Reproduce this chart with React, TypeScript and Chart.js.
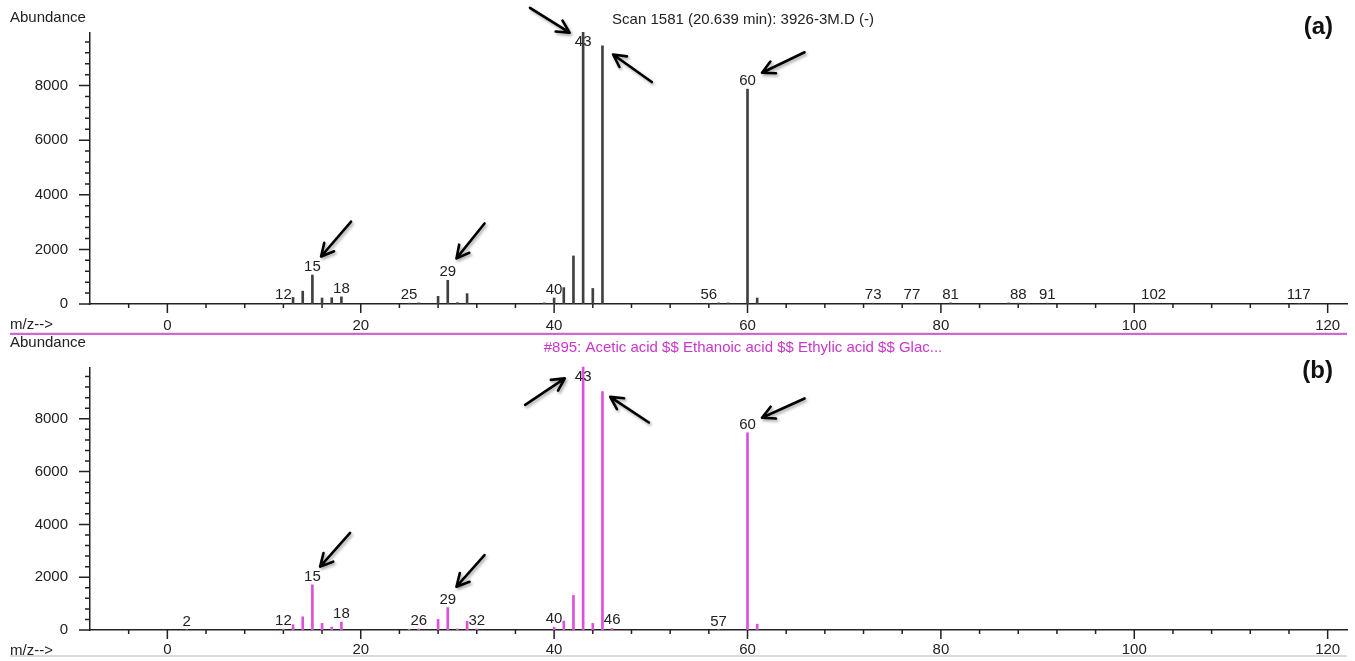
import React, { useEffect, useRef } from "react";
import { Chart, registerables } from "chart.js";

Chart.register(...registerables);

// ---------- data ----------
const topMz = [12, 13, 14, 15, 16, 17, 18, 25, 26, 28, 29, 30, 31, 39, 40, 41, 42, 43, 44, 45, 56, 57, 58, 60, 61, 73, 77, 81, 87, 88, 89, 91, 102, 117];
const topAbundance = [20, 240, 470, 1060, 220, 230, 260, 30, 40, 280, 870, 50, 380, 40, 220, 600, 1760, 9950, 570, 9460, 20, 40, 40, 7870, 220, 30, 20, 40, 40, 30, 30, 30, 30, 20];
const topPeakLabels = [12, 15, 18, 25, 29, 40, 43, 56, 60, 73, 77, 81, 88, 91, 102, 117];

const bottomMz = [2, 12, 13, 14, 15, 16, 17, 18, 25, 26, 28, 29, 30, 31, 32, 40, 41, 42, 43, 44, 45, 46, 57, 60, 61];
const bottomAbundance = [10, 30, 200, 500, 1710, 250, 110, 300, 30, 40, 400, 850, 40, 330, 40, 100, 340, 1310, 9960, 250, 9030, 60, 10, 7470, 220];
const bottomPeakLabels = [2, 12, 15, 18, 26, 29, 32, 40, 43, 46, 57, 60];

// arrows: tail (x0,y0) -> tip (x1,y1), in data units (m/z, abundance)
const topArrows = [
  { x0: 37.5, y0: 10850, x1: 41.6, y1: 9940 },
  { x0: 50.1, y0: 8130, x1: 46.1, y1: 9140 },
  { x0: 65.9, y0: 9220, x1: 61.5, y1: 8470 },
  { x0: 19.0, y0: 3020, x1: 15.9, y1: 1740 },
  { x0: 32.8, y0: 2950, x1: 29.9, y1: 1670 },
];
const bottomArrows = [
  { x0: 37.0, y0: 8530, x1: 41.1, y1: 9530 },
  { x0: 49.8, y0: 7860, x1: 45.8, y1: 8830 },
  { x0: 65.9, y0: 8770, x1: 61.5, y1: 8040 },
  { x0: 18.9, y0: 3680, x1: 15.8, y1: 2400 },
  { x0: 32.8, y0: 2840, x1: 29.9, y1: 1640 },
];

const topTitle = "Scan 1581 (20.639 min): 3926-3M.D (-)";
const bottomTitle = "#895: Acetic acid $$ Ethanoic acid $$ Ethylic acid $$ Glac...";

const X_MIN = -8;
const X_MAX = 122;
const Y_MAX = 10000;
const X_MINOR = 4;
const X_MAJOR = 20;
const Y_MINOR = 400;
const Y_MAJOR = 2000;

const FONT = '"Liberation Sans", Arial, Helvetica, sans-serif';
const TEXT = "#222";

type Arrow = { x0: number; y0: number; x1: number; y1: number };

interface PanelCfg {
  mz: number[];
  values: number[];
  labels: number[];
  arrows: Arrow[];
  barColor: string;
  title: string;
  titleColor: string;
  letter: string;
  height: number;
  areaTop: number;
  areaBottom: number;
  xLabelPad: number;
  abundanceY: number;
  mzY: number;
  titleY: number;
  letterY: number;
  separator?: { y: number; color: string; width: number };
}

function makePlugin(cfg: PanelCfg) {
  return {
    id: "panelDecor",
    afterDraw(chart: any) {
      const ctx: CanvasRenderingContext2D = chart.ctx;
      const xs = chart.scales.x;
      const ys = chart.scales.y;
      const area = chart.chartArea;
      ctx.save();
      ctx.fillStyle = "#fff";
      ctx.fillRect(area.left - 3, area.top - 2, 5, 3);
      // ticks
      ctx.strokeStyle = "#222";
      ctx.lineWidth = 1.5;
      ctx.beginPath();
      for (let v = -4; v <= 120; v += X_MINOR) {
        const px = xs.getPixelForValue(v);
        const len = v % X_MAJOR === 0 ? 9 : 4;
        ctx.moveTo(px, area.bottom);
        ctx.lineTo(px, area.bottom + len);
      }
      for (let v = 0; v < Y_MAX - 100; v += Y_MINOR) {
        const py = ys.getPixelForValue(v);
        const len = v % Y_MAJOR === 0 ? 11 : 5;
        ctx.moveTo(area.left, py);
        ctx.lineTo(area.left - len, py);
      }
      ctx.stroke();

      // peak labels
      ctx.fillStyle = TEXT;
      ctx.font = `15px ${FONT}`;
      ctx.textAlign = "center";
      ctx.textBaseline = "alphabetic";
      cfg.labels.forEach((m) => {
        const idx = cfg.mz.indexOf(m);
        const val = idx >= 0 ? cfg.values[idx] : 0;
        const px = xs.getPixelForValue(m);
        let py = ys.getPixelForValue(val) - 4;
        py = Math.max(py, area.top + 15);
        ctx.fillText(String(m), px, py);
      });

      // arrows
      ctx.save();
      ctx.shadowColor = "rgba(0,0,0,0.35)";
      ctx.shadowBlur = 3;
      ctx.shadowOffsetX = 1.5;
      ctx.shadowOffsetY = 2;
      ctx.strokeStyle = "#000";
      ctx.lineWidth = 2.6;
      ctx.lineCap = "round";
      ctx.lineJoin = "round";
      cfg.arrows.forEach((a) => {
        const x0 = xs.getPixelForValue(a.x0);
        const y0 = ys.getPixelForValue(a.y0);
        const x1 = xs.getPixelForValue(a.x1);
        const y1 = ys.getPixelForValue(a.y1);
        const ang = Math.atan2(y1 - y0, x1 - x0);
        const h = 14;
        const sp = Math.PI / 6.5;
        ctx.beginPath();
        ctx.moveTo(x0, y0);
        ctx.lineTo(x1, y1);
        ctx.moveTo(x1 - h * Math.cos(ang - sp), y1 - h * Math.sin(ang - sp));
        ctx.lineTo(x1, y1);
        ctx.lineTo(x1 - h * Math.cos(ang + sp), y1 - h * Math.sin(ang + sp));
        ctx.stroke();
      });
      ctx.restore();

      // texts
      ctx.fillStyle = TEXT;
      ctx.font = `15px ${FONT}`;
      ctx.textAlign = "left";
      ctx.textBaseline = "middle";
      ctx.fillText("Abundance", 10, cfg.abundanceY);
      ctx.fillText("m/z-->", 10, cfg.mzY);
      ctx.fillStyle = cfg.titleColor;
      ctx.textAlign = "center";
      ctx.fillText(cfg.title, 743, cfg.titleY);
      ctx.fillStyle = "#111";
      ctx.font = `bold 24px ${FONT}`;
      ctx.textAlign = "right";
      ctx.fillText(cfg.letter, 1333, cfg.letterY);

      if (cfg.separator) {
        ctx.strokeStyle = cfg.separator.color;
        ctx.lineWidth = cfg.separator.width;
        ctx.beginPath();
        ctx.moveTo(10, cfg.separator.y);
        ctx.lineTo(1347, cfg.separator.y);
        ctx.stroke();
      }
      ctx.restore();
    },
  };
}

function Panel({ cfg }: { cfg: PanelCfg }) {
  const ref = useRef<HTMLCanvasElement | null>(null);
  useEffect(() => {
    if (!ref.current) return;
    const chart = new Chart(ref.current, {
      type: "bar",
      data: {
        datasets: [
          {
            data: cfg.mz.map((m, i) => ({ x: m, y: cfg.values[i] })),
            backgroundColor: cfg.barColor,
            borderWidth: 0,
            barThickness: 2,
          } as any,
        ],
      },
      options: {
        animation: false,
        responsive: false,
        events: [],
        layout: { padding: { top: cfg.areaTop, right: 8, left: 0, bottom: 0 } },
        plugins: {
          legend: { display: false },
          tooltip: { enabled: false },
        },
        scales: {
          x: {
            type: "linear",
            min: X_MIN,
            max: X_MAX,
            offset: false,
            grid: { display: false, drawTicks: false },
            border: { display: true, color: "#222", width: 1.5 },
            ticks: {
              stepSize: X_MINOR,
              includeBounds: false,
              autoSkip: false,
              maxRotation: 0,
              padding: cfg.xLabelPad,
              color: TEXT,
              font: { family: FONT, size: 15 },
              callback: (v: any) => (Number(v) % X_MAJOR === 0 ? String(v) : ""),
            },
            afterFit: (s: any) => {
              s.height = cfg.height - cfg.areaBottom;
            },
          },
          y: {
            min: 0,
            max: Y_MAX,
            grid: { display: false, drawTicks: false },
            border: { display: true, color: "#222", width: 1.5 },
            ticks: {
              stepSize: Y_MINOR,
              autoSkip: false,
              padding: 22,
              color: TEXT,
              font: { family: FONT, size: 15 },
              callback: (v: any) => {
                const n = Math.round(Number(v));
                return n % Y_MAJOR === 0 && n < Y_MAX ? String(n) : "";
              },
            },
            afterFit: (s: any) => {
              s.width = 90;
            },
          },
        },
      } as any,
      plugins: [makePlugin(cfg)],
    });
    return () => chart.destroy();
  }, [cfg]);
  return <canvas ref={ref} width={1355} height={cfg.height} style={{ display: "block" }} />;
}

const topCfg: PanelCfg = {
  mz: topMz,
  values: topAbundance,
  labels: topPeakLabels,
  arrows: topArrows,
  barColor: "#404040",
  title: topTitle,
  titleColor: TEXT,
  letter: "(a)",
  height: 335,
  areaTop: 31,
  areaBottom: 306,
  xLabelPad: 13,
  abundanceY: 18,
  mzY: 325,
  titleY: 20,
  letterY: 27,
  separator: { y: 334, color: "#d466d4", width: 2.5 },
};

const bottomCfg: PanelCfg = {
  mz: bottomMz,
  values: bottomAbundance,
  labels: bottomPeakLabels,
  arrows: bottomArrows,
  barColor: "#dc50dc",
  title: bottomTitle,
  titleColor: "#c936c9",
  letter: "(b)",
  height: 326,
  areaTop: 21,
  areaBottom: 296,
  xLabelPad: 11,
  abundanceY: 8,
  mzY: 316,
  titleY: 13,
  letterY: 36,
  separator: { y: 321, color: "#b5b5b5", width: 1 },
};

export default function App() {
  useEffect(() => {
    document.body.style.margin = "0";
    document.body.style.background = "#fff";
  }, []);
  return (
    <div style={{ width: 1355, height: 661, background: "#fff", overflow: "hidden" }}>
      <Panel cfg={topCfg} />
      <Panel cfg={bottomCfg} />
    </div>
  );
}
